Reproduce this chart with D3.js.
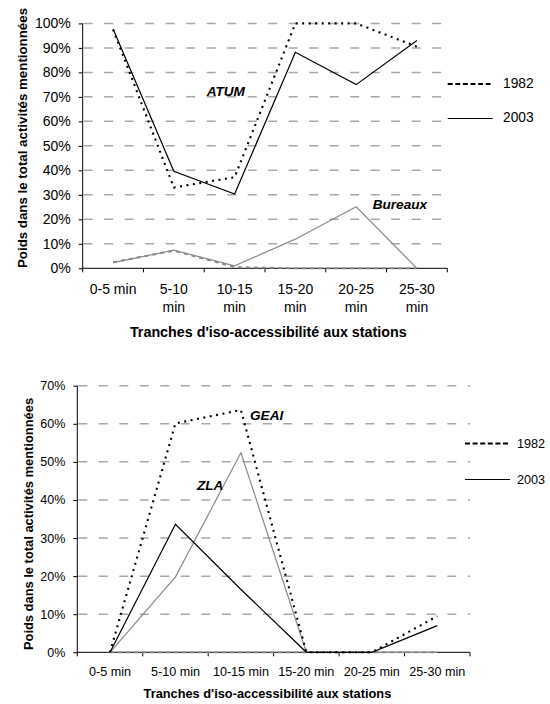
<!DOCTYPE html>
<html><head><meta charset="utf-8">
<script src="https://cdn.jsdelivr.net/npm/d3@7"></script>
<style>
html,body{margin:0;padding:0;background:#fff;}
svg{display:block;font-family:Arial,"Liberation Sans",sans-serif;}
</style></head>
<body>
<svg id="c" width="550" height="704"></svg>
<script>
// ---------- DATA ----------
const categoriesTop = ["0-5 min","5-10 min","10-15 min","15-20 min","20-25 min","25-30 min"];
const categoriesBottom = ["0-5 min","5-10 min","10-15 min","15-20 min","20-25 min","25-30 min"];
const atum1982 = [97.5, 33, 37.2, 100, 100, 90.5];
const atum2003 = [97.7, 39.6, 30.3, 88.2, 75, 93];
const bureaux1982 = [2.5, 7.2, 0.5, 0, 0, 0];
const bureaux2003 = [2.3, 7.4, 1, 11.9, 25.1, 0];
const geai1982 = [0, 60.1, 63.6, 0, 0, 9.5];
const geai2003 = [0, 33.6, 16.5, 0, 0, 7];
const zla1982 = [0, 0, 0, 0, 0, 0];
const zla2003 = [0, 19.8, 52.4, 0, 0, 0];
const ticksTop = [0,10,20,30,40,50,60,70,80,90,100];
const ticksBottom = [0,10,20,30,40,50,60,70];
const legendLabels = ["1982","2003"];
const yTitle = "Poids dans le total activités mentionnées";
const xTitle = "Tranches d'iso-accessibilité aux stations";

const svg = d3.select("#c");
const FONT = 'Arial,"Liberation Sans",sans-serif';

const styles = {
  black1982: {stroke:"#000", width:2.1, dash:"2,4.5"},
  black2003: {stroke:"#000", width:1.2, dash:null},
  gray1982:  {stroke:"#8a8a8a", width:2, dash:"4,4"},
  gray2003:  {stroke:"#8a8a8a", width:1.2, dash:null}
};

function drawChart(cfg){
  const g = svg.append("g");
  const x = d3.scaleBand().domain(cfg.cats).range([cfg.x0, cfg.x1]);
  const y = d3.scaleLinear().domain([0, cfg.ymax]).range([cfg.y0, cfg.y1]);

  // gridlines
  g.append("g").selectAll("line").data(cfg.ticks.filter(t=>t>0)).join("line")
    .attr("x1", cfg.x0+1).attr("x2", cfg.x1)
    .attr("y1", d=>y(d)).attr("y2", d=>y(d))
    .attr("stroke","#a8a8a8").attr("stroke-width",1.5)
    .attr("stroke-dasharray","9,11.5");

  // y axis
  const ya = d3.axisLeft(y).tickValues(cfg.ticks).tickSize(4).tickPadding(cfg.yPad)
    .tickFormat(d=>d+"%");
  const yg = g.append("g").attr("transform",`translate(${cfg.x0},0)`).call(ya);
  yg.select(".domain").attr("stroke","#000").attr("d",`M0,${cfg.y0}V${cfg.y1}`);
  yg.selectAll(".tick line").attr("stroke","#000");
  yg.selectAll("text").attr("font-family",FONT).attr("font-size",cfg.tickFont).attr("fill","#000");

  // x axis
  const xa = d3.axisBottom(x).tickSize(0).tickFormat("");
  const xg = g.append("g").attr("transform",`translate(0,${cfg.y0})`).call(xa);
  xg.select(".domain").attr("stroke","#000").attr("d",`M${cfg.x0},0H${cfg.x1}`);
  const bounds = cfg.cats.map(c=>x(c)).concat([x(cfg.cats[cfg.cats.length-1])+x.bandwidth()]);
  xg.selectAll(".bt").data(bounds).join("line").attr("class","bt")
    .attr("x1",d=>d).attr("x2",d=>d).attr("y1",0).attr("y2",4).attr("stroke","#000");
  const lab = g.append("g");
  cfg.cats.forEach(c=>{
    const cx = x(c)+x.bandwidth()/2;
    const t = lab.append("text").attr("x",cx).attr("text-anchor","middle")
      .attr("font-family",FONT).attr("font-size",cfg.xFont).attr("fill","#000");
    const lines = (cfg.wrap && c!=="0-5 min") ? c.split(" ") : [c];
    lines.forEach((ln,i)=>{
      t.append("tspan").attr("x",cx).attr("y",cfg.xLabY + i*cfg.xLineH).text(ln);
    });
  });

  // series
  const line = d3.line().x((d,i)=>x(cfg.cats[i])+x.bandwidth()/2).y(d=>y(d));
  cfg.series.forEach(s=>{
    const st = styles[s.style];
    g.append("path").datum(s.values).attr("d",line).attr("fill","none")
      .attr("stroke",st.stroke).attr("stroke-width",st.width)
      .attr("stroke-dasharray",st.dash)
      .attr("stroke-linejoin","miter");
  });

  // annotations
  cfg.notes.forEach(n=>{
    g.append("text").attr("x",n.x).attr("y",n.y).text(n.t)
      .attr("font-family",FONT).attr("font-size",cfg.noteFont)
      .attr("font-weight","bold").attr("font-style","italic");
  });

  // titles
  g.append("text").attr("transform",`translate(${cfg.yTitleX},${(cfg.yTitleTop+cfg.yTitleBot)/2}) rotate(-90)`)
    .attr("text-anchor","middle").attr("font-family",FONT).attr("font-weight","bold")
    .attr("font-size",cfg.yTitleFont).text(yTitle);
  g.append("text").attr("x",cfg.xTitleX).attr("y",cfg.xTitleY).attr("text-anchor","middle")
    .attr("font-family",FONT).attr("font-weight","bold").attr("font-size",cfg.xTitleFont).text(xTitle);

  // legend
  const lg = g.append("g");
  legendLabels.forEach((l,i)=>{
    const ly = cfg.legY[i];
    lg.append("line").attr("x1",cfg.legX0).attr("x2",cfg.legX1).attr("y1",ly).attr("y2",ly)
      .attr("stroke","#000").attr("stroke-width", i===0?2:1)
      .attr("stroke-dasharray", i===0?"5,2.6":null);
    lg.append("text").attr("x",cfg.legTX).attr("y",cfg.legTY[i]).text(l)
      .attr("font-family",FONT).attr("font-size",cfg.legFont);
  });
}

drawChart({
  cats: categoriesTop, x0: 82.7, x1: 447.3, y0: 268.3, y1: 23.4, ymax: 100,
  ticks: ticksTop, yPad: 8, tickFont: 14, xFont: 14, wrap: true, xLabY: 294, xLineH: 17.7,
  series: [
    {values: bureaux1982, style:"gray1982"},
    {values: bureaux2003, style:"gray2003"},
    {values: atum1982, style:"black1982"},
    {values: atum2003, style:"black2003"}
  ],
  notes: [{t:"ATUM", x:206.7, y:96}, {t:"Bureaux", x:372.7, y:209}], noteFont: 13.6,
  yTitleX: 27, yTitleTop: 8, yTitleBot: 268, yTitleFont: 13.3,
  xTitleX: 268.3, xTitleY: 337, xTitleFont: 14.3,
  legX0: 447.7, legX1: 492.7, legY: [84, 118.5], legTX: 503, legTY: [88, 121.5], legFont: 13.8
});

drawChart({
  cats: categoriesBottom, x0: 77.3, x1: 470, y0: 652.3, y1: 385.7, ymax: 70,
  ticks: ticksBottom, yPad: 8, tickFont: 12.5, xFont: 12.6, wrap: false, xLabY: 675.5, xLineH: 0,
  series: [
    {values: zla1982, style:"gray1982"},
    {values: zla2003, style:"gray2003"},
    {values: geai1982, style:"black1982"},
    {values: geai2003, style:"black2003"}
  ],
  notes: [{t:"GEAI", x:250, y:420}, {t:"ZLA", x:197, y:490}], noteFont: 13.6,
  yTitleX: 33, yTitleTop: 398, yTitleBot: 650, yTitleFont: 12.9,
  xTitleX: 267.4, xTitleY: 698, xTitleFont: 12.8,
  legX0: 465, legX1: 510, legY: [443.5, 479.5], legTX: 517, legTY: [447.5, 484], legFont: 12.6
});
</script>
</body></html>
